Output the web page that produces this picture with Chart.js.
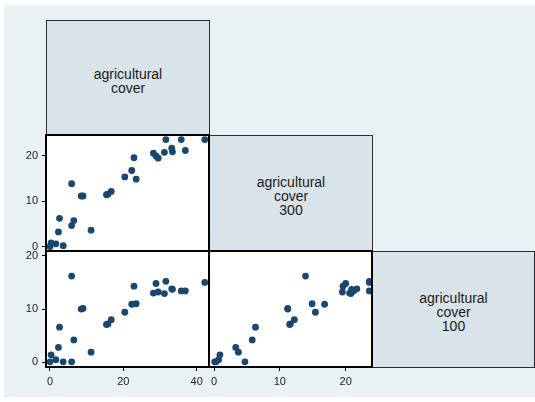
<!DOCTYPE html>
<html>
<head>
<meta charset="utf-8">
<script src="https://cdn.jsdelivr.net/npm/chart.js@4.4.0/dist/chart.umd.min.js"></script>
<style>
  html, body { margin: 0; padding: 0; background: #ffffff; }
  #wrap { position: relative; width: 535px; height: 402px; overflow: hidden; background: #ffffff; }
  #region { position: absolute; left: 4px; top: 5px; width: 531px; height: 392px; background: #eaf1f4; }
  #wrap canvas { position: absolute; left: 0; top: 0; }
  .diag {
    position: absolute; box-sizing: border-box;
    border: 1px solid #2b2b2b; background: #d9e4ea;
    font-family: "Liberation Sans", Arial, sans-serif; font-size: 14px; line-height: 14px;
    color: #1a1a1a; text-align: center;
    display: flex; align-items: center; justify-content: center; padding-top: 5px;
  }
</style>
</head>
<body>
<div id="wrap">
  <div id="region"></div>
  <div class="diag" style="left:46px;top:20px;width:164px;height:116px;">agricultural<br>cover</div>
  <div class="diag" style="left:209px;top:135px;width:164px;height:117px;">agricultural<br>cover<br>300</div>
  <div class="diag" style="left:372px;top:251px;width:163px;height:117px;">agricultural<br>cover<br>100</div>
  <canvas id="p21" width="535" height="402"></canvas>
  <canvas id="p31" width="535" height="402"></canvas>
  <canvas id="p32" width="535" height="402"></canvas>
</div>
<script>
// One entry per observation, same order in every variable
const agCover    = [0, 0.3, 1.6, 3.6, 2.3, 2.6, 5.9, 6.5, 5.9, 8.5, 9.0, 11.2, 15.4, 15.8, 16.7, 20.4, 22.3, 23.5, 22.9, 28.2, 28.9, 29.5, 31.2, 31.6, 33.2, 33.4, 35.8, 36.9, 42.2];
const agCover300 = [0.1, 0.9, 0.7, 0.3, 3.3, 6.3, 4.7, 5.8, 13.9, 11.2, 11.2, 3.7, 11.5, 11.6, 12.2, 15.4, 16.8, 14.9, 19.6, 20.6, 20.0, 19.5, 20.8, 23.6, 21.7, 20.9, 23.6, 21.2, 23.6];
const agCover100 = [0.1, 1.4, 0.5, 0.1, 2.8, 6.6, 0.1, 4.2, 16.2, 10.0, 10.1, 1.9, 7.1, 7.2, 8.0, 9.4, 10.9, 11.0, 14.3, 13.0, 14.8, 13.2, 12.9, 15.2, 13.8, 13.7, 13.4, 13.4, 15.0];

// Tick labels per variable
const ticksCover    = [0, 20, 40];
const ticksCover300 = [0, 10, 20];
const ticksCover100 = [0, 10, 20];

// Axis extents per variable
const rangeCoverX    = [-1.09, 43.36];
const rangeCover300X = [-0.76, 24.0];
const rangeCover300Y = [-0.88, 24.6];
const rangeCover100Y = [-0.88, 20.9];

const W = 535, H = 402;
const Y_AXIS_W = 30, X_AXIS_H = 30;
const MARKER = '#1a476f';
const FONT = { family: '"Liberation Sans", Arial, sans-serif', size: 11 };

const panelFrame = {
  id: 'panelFrame',
  beforeDraw(chart) {
    const { ctx, chartArea: a } = chart;
    ctx.save();
    ctx.fillStyle = '#ffffff';
    ctx.fillRect(a.left, a.top, a.right - a.left, a.bottom - a.top);
    ctx.restore();
  },
  afterDraw(chart) {
    const { ctx, chartArea: a } = chart;
    ctx.save();
    ctx.strokeStyle = '#000000';
    ctx.lineWidth = 2;
    ctx.strokeRect(a.left, a.top, a.right - a.left, a.bottom - a.top);
    ctx.restore();
  }
};

function axis(range, ticks, show, isY) {
  return {
    type: 'linear',
    display: show,
    min: range[0],
    max: range[1],
    afterBuildTicks(scale) { scale.ticks = ticks.map(v => ({ value: v })); },
    afterFit(scale) {
      if (!show) { if (isY) scale.width = 0; else scale.height = 0; return; }
      if (isY) scale.width = Y_AXIS_W; else scale.height = X_AXIS_H;
    },
    border: { display: false },
    grid: { display: true, drawOnChartArea: false, drawTicks: true, tickLength: 4, tickWidth: 1, tickColor: '#000000' },
    ticks: { autoSkip: false, maxRotation: 0, padding: 4, color: '#222222', font: FONT, callback: v => String(v) }
  };
}

function panel(id, xs, ys, box, xr, xt, showX, yr, yt, showY) {
  const points = xs.map((x, i) => ({ x: x, y: ys[i] }));
  new Chart(document.getElementById(id), {
    type: 'scatter',
    data: { datasets: [{ data: points, backgroundColor: MARKER, borderWidth: 0, pointRadius: 3.4, pointHoverRadius: 3.4 }] },
    options: {
      responsive: false, animation: false, events: [],
      layout: { padding: {
        left: box.left - (showY ? Y_AXIS_W : 0),
        top: box.top,
        right: W - box.right,
        bottom: H - box.bottom - (showX ? X_AXIS_H : 0)
      } },
      plugins: { legend: { display: false }, tooltip: { enabled: false } },
      scales: {
        x: axis(xr, xt, showX, false),
        y: axis(yr, yt, showY, true)
      }
    },
    plugins: [panelFrame]
  });
}

// Lower triangle of the scatter matrix
panel('p21', agCover, agCover300, { left: 46, top: 135, right: 209, bottom: 251 },
      rangeCoverX, ticksCover, false, rangeCover300Y, ticksCover300, true);
panel('p31', agCover, agCover100, { left: 46, top: 251, right: 209, bottom: 367 },
      rangeCoverX, ticksCover, true, rangeCover100Y, ticksCover100, true);
panel('p32', agCover300, agCover100, { left: 209, top: 251, right: 372, bottom: 367 },
      rangeCover300X, ticksCover300, true, rangeCover100Y, ticksCover100, false);
</script>
</body>
</html>
